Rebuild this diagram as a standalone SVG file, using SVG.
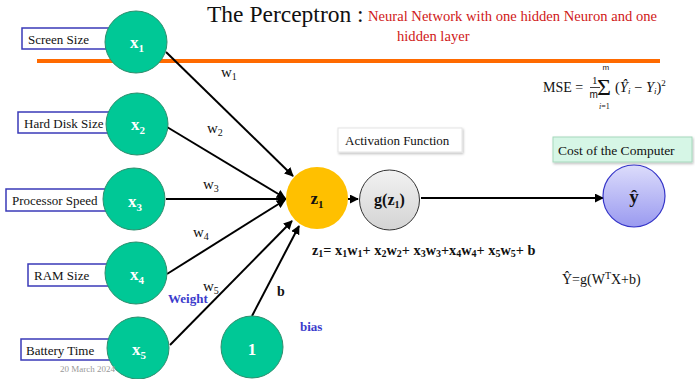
<svg xmlns="http://www.w3.org/2000/svg" width="695" height="379" viewBox="0 0 695 379">
<defs>
<style>
.serif{font-family:"Liberation Serif","Times New Roman",serif;}
.box{fill:#fff;stroke:#3a3ab8;stroke-width:1.5;}
.boxt{font-family:"Liberation Serif",serif;font-size:13px;fill:#111;}
.in{fill:#00c896;stroke:#2f8f6e;stroke-width:1;}
.nt{font-family:"Liberation Serif",serif;font-size:17px;font-weight:bold;fill:#fff;text-anchor:middle;}
.w{font-family:"Liberation Serif",serif;font-size:15px;fill:#111;}
.con{stroke:#000;stroke-width:2;fill:none;}
.blue{font-family:"Liberation Serif",serif;font-size:13px;font-weight:bold;fill:#3b3bcc;}
</style>
<marker id="ah" viewBox="0 0 10 10" refX="9" refY="5" markerWidth="4.5" markerHeight="4.5" orient="auto" markerUnits="strokeWidth">
<path d="M0,0 L10,5 L0,10 z" fill="#000"/>
</marker>
<linearGradient id="gg" x1="0" y1="0" x2="0" y2="1">
<stop offset="0" stop-color="#f2f2f2"/><stop offset="1" stop-color="#d4d4d4"/>
</linearGradient>
<linearGradient id="yg" x1="0" y1="0" x2="0" y2="1">
<stop offset="0" stop-color="#dcdcfb"/><stop offset="1" stop-color="#9a9af0"/>
</linearGradient>
<filter id="sh" x="-10%" y="-20%" width="130%" height="160%">
<feDropShadow dx="1" dy="1.5" stdDeviation="1" flood-color="#000" flood-opacity="0.25"/>
</filter>
</defs>
<rect width="695" height="379" fill="#fff"/>

<!-- title -->
<g id="title">
<text class="serif" x="207" y="22" font-size="23.5" fill="#111">The Perceptron :</text>
<text class="serif" x="368" y="21" font-size="14.6" fill="#d01818">Neural Network with one hidden Neuron and one</text>
<text class="serif" x="397" y="41" font-size="14.6" fill="#d01818">hidden layer</text>
</g>
<line x1="37" y1="61" x2="660" y2="61" stroke="#ff6a00" stroke-width="4"/>

<!-- MSE -->
<g id="mse" class="serif" fill="#111">
<text x="543" y="92" font-size="14">MSE =</text>
<text x="592" y="84" font-size="11">1</text>
<line x1="590" y1="87.5" x2="600" y2="87.5" stroke="#111" stroke-width="0.8"/>
<text x="589.5" y="98" font-size="10" font-family="Liberation Sans,sans-serif">m</text>
<text x="597" y="95" font-size="24">Σ</text>
<text x="602.5" y="70" font-size="8" font-family="Liberation Sans,sans-serif">m</text>
<text x="599" y="108.5" font-size="8" font-style="italic">i<tspan font-style="normal">=1</tspan></text>
<text x="615" y="92" font-size="14.5">(<tspan font-style="italic">Ŷ</tspan><tspan font-style="italic" font-size="9" dy="2">i</tspan><tspan dy="-2"> − </tspan><tspan font-style="italic">Y</tspan><tspan font-style="italic" font-size="9" dy="2">i</tspan><tspan dy="-2">)</tspan><tspan font-size="9" dy="-6">2</tspan></text>
</g>

<!-- connectors -->
<g id="connectors">
<line class="con" x1="166" y1="52" x2="293" y2="176" marker-end="url(#ah)"/>
<line class="con" x1="167" y1="127" x2="285" y2="198" marker-end="url(#ah)"/>
<line class="con" x1="166" y1="199" x2="286" y2="199" marker-end="url(#ah)"/>
<line class="con" x1="167" y1="274" x2="285" y2="200" marker-end="url(#ah)"/>
<line class="con" x1="170" y1="345" x2="292" y2="221" marker-end="url(#ah)"/>
<line class="con" x1="252" y1="316" x2="299" y2="226" marker-end="url(#ah)"/>
<line class="con" x1="348" y1="199" x2="358" y2="199" marker-end="url(#ah)"/>
<line class="con" x1="421" y1="198" x2="603" y2="198" stroke-width="1.5" marker-end="url(#ah)"/>
</g>

<!-- weight labels -->
<g id="weights">
<text class="w" x="221" y="77">w<tspan font-size="10" dy="3">1</tspan></text>
<text class="w" x="207" y="133">w<tspan font-size="10" dy="3">2</tspan></text>
<text class="w" x="203" y="189">w<tspan font-size="10" dy="3">3</tspan></text>
<text class="w" x="193" y="237">w<tspan font-size="10" dy="3">4</tspan></text>
<text class="w" x="203" y="291">w<tspan font-size="10" dy="3">5</tspan></text>
<text class="blue" x="168" y="303">Weight</text>
<text class="serif" x="277" y="296" font-size="14" font-weight="bold" fill="#111">b</text>
<text class="blue" x="300" y="331">bias</text>
</g>

<!-- inputs -->
<g id="in1">
<rect class="box" x="22" y="28" width="95" height="21"/>
<text class="boxt" x="28" y="44">Screen Size</text>
<circle class="in" cx="136" cy="42" r="31"/>
<text class="nt" x="137" y="48">x<tspan font-size="11" dy="4">1</tspan></text>
</g>
<g id="in2">
<rect class="box" x="18" y="112" width="95" height="21"/>
<text class="boxt" x="24" y="128">Hard Disk Size</text>
<circle class="in" cx="137" cy="124" r="31"/>
<text class="nt" x="138" y="130">x<tspan font-size="11" dy="4">2</tspan></text>
</g>
<g id="in3">
<rect class="box" x="6" y="189" width="100" height="22"/>
<text class="boxt" x="12" y="205">Processor Speed</text>
<circle class="in" cx="134" cy="199" r="31"/>
<text class="nt" x="135" y="207">x<tspan font-size="11" dy="4">3</tspan></text>
</g>
<g id="in4">
<rect class="box" x="28" y="264" width="85" height="22"/>
<text class="boxt" x="34" y="280">RAM Size</text>
<circle class="in" cx="136" cy="273" r="31"/>
<text class="nt" x="137" y="280">x<tspan font-size="11" dy="4">4</tspan></text>
</g>
<g id="in5">
<rect class="box" x="21" y="339" width="90" height="21"/>
<text class="boxt" x="26" y="355">Battery Time</text>
<circle class="in" cx="138" cy="348" r="31"/>
<text class="nt" x="139" y="355">x<tspan font-size="11" dy="4">5</tspan></text>
</g>
<text class="serif" x="60" y="372" font-size="9" fill="#999">20 March 2024</text>

<!-- bias node -->
<g id="bias">
<circle class="in" cx="252" cy="347" r="31"/>
<text class="nt" x="252" y="355">1</text>
</g>

<!-- z1 -->
<g id="z1">
<circle cx="317" cy="198" r="31" fill="#ffc000"/>
<text class="serif" x="317" y="204" font-size="17" font-weight="bold" fill="#111" text-anchor="middle">z<tspan font-size="11" dy="4">1</tspan></text>
<text class="serif" x="312" y="255" font-size="14.3" font-weight="bold" fill="#111">z<tspan font-size="10" dy="2">1</tspan><tspan dy="-2">= x</tspan><tspan font-size="10" dy="2">1</tspan><tspan dy="-2">w</tspan><tspan font-size="10" dy="2">1</tspan><tspan dy="-2">+ x</tspan><tspan font-size="10" dy="2">2</tspan><tspan dy="-2">w</tspan><tspan font-size="10" dy="2">2</tspan><tspan dy="-2">+ x</tspan><tspan font-size="10" dy="2">3</tspan><tspan dy="-2">w</tspan><tspan font-size="10" dy="2">3</tspan><tspan dy="-2">+x</tspan><tspan font-size="10" dy="2">4</tspan><tspan dy="-2">w</tspan><tspan font-size="10" dy="2">4</tspan><tspan dy="-2">+ x</tspan><tspan font-size="10" dy="2">5</tspan><tspan dy="-2">w</tspan><tspan font-size="10" dy="2">5</tspan><tspan dy="-2">+ b</tspan></text>
</g>

<!-- activation -->
<g id="activation">
<rect x="338" y="128" width="124" height="24" fill="#fff" stroke="#e4e4e4" stroke-width="1" filter="url(#sh)"/>
<text class="serif" x="345" y="145" font-size="13" fill="#111">Activation Function</text>
<circle cx="389.5" cy="200" r="30" fill="url(#gg)" stroke="#333" stroke-width="1"/>
<text class="serif" x="389.5" y="205" font-size="16" font-weight="bold" fill="#111" text-anchor="middle">g(z<tspan font-size="10" dy="3">1</tspan><tspan dy="-3">)</tspan></text>
</g>

<!-- output -->
<g id="output">
<rect x="553" y="137" width="139" height="25" fill="#d6f6e6" stroke="#a6d8bc" stroke-width="1" filter="url(#sh)"/>
<text class="serif" x="558" y="155" font-size="13.5" fill="#111">Cost of the Computer</text>
<circle cx="634" cy="196" r="31" fill="url(#yg)" stroke="#3535c8" stroke-width="1.2"/>
<text class="serif" x="634" y="203" font-size="19" font-weight="bold" fill="#111" text-anchor="middle">ŷ</text>
<text class="serif" x="562" y="284" font-size="14" fill="#111">Ŷ=g(W<tspan font-size="10" dy="-5">T</tspan><tspan dy="5">X+b)</tspan></text>
</g>
</svg>
